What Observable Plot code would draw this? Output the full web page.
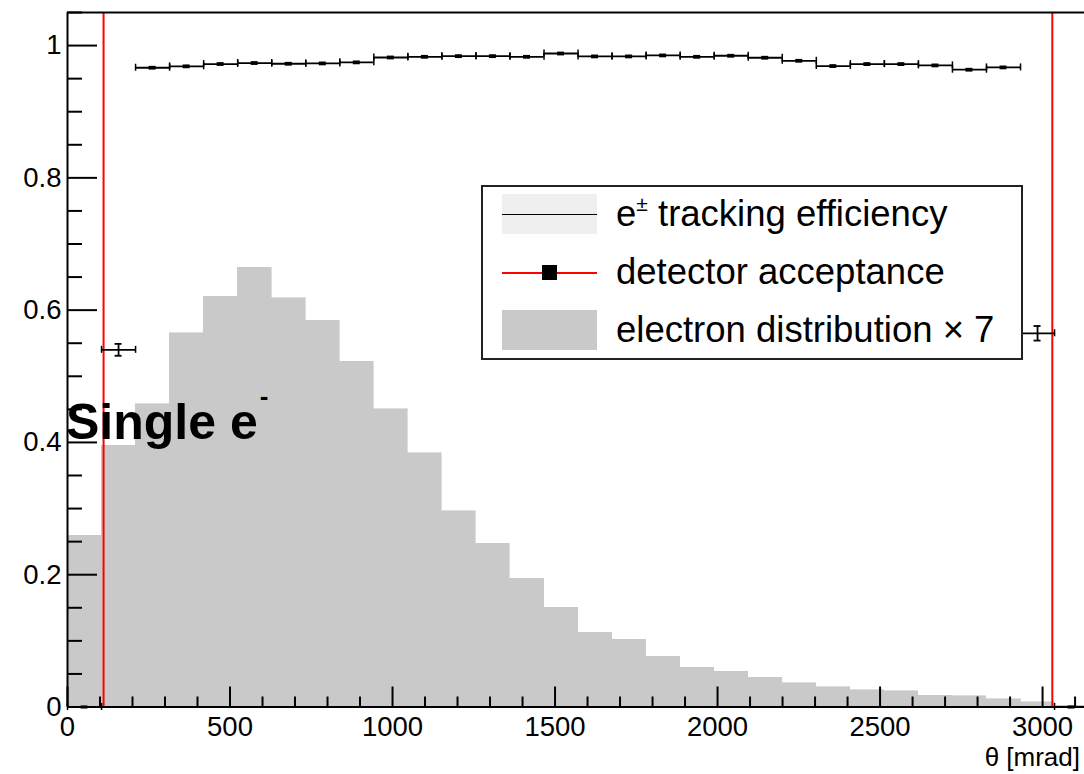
<!DOCTYPE html>
<html>
<head>
<meta charset="utf-8">
<script src="https://cdn.jsdelivr.net/npm/d3@7"></script>
<script src="https://cdn.jsdelivr.net/npm/@observablehq/plot@0.6"></script>
<style>
  body { margin: 0; background: #fff; }
  #wrap { position: relative; width: 1084px; height: 774px; overflow: hidden; background: #fff;
          font-family: "Liberation Sans", Arial, Helvetica, sans-serif; color: #000; }
  #wrap svg { position: absolute; left: 0; top: 0; }
  .abs { position: absolute; white-space: nowrap; }
  .legtext { position: absolute; left: 616px; height: 50px; line-height: 50px; font-size: 36.5px; white-space: nowrap; }
</style>
</head>
<body>
<div id="wrap"></div>
<script>
// ---- data ----
const binCount = 30;            // theta bins
const thetaMax = 3141.6;        // mrad (pi rad)
const xDomainMax = 3129;        // visible right end of the frame (mrad)
const yDomainMax = 1.05;

// electron distribution x 7 (grey histogram), one value per bin
const electronDist = [0.259, 0.395, 0.458, 0.565, 0.620, 0.664, 0.618, 0.584, 0.522, 0.450,
                      0.384, 0.296, 0.247, 0.194, 0.150, 0.112, 0.102, 0.076, 0.059, 0.053,
                      0.044, 0.036, 0.030, 0.025, 0.024, 0.017, 0.016, 0.012, 0.007, 0.002];

// e+- tracking efficiency, one value per bin
const efficiency = [0.000, 0.540, 0.9665, 0.9686, 0.9721, 0.9736, 0.9725, 0.9730, 0.9746, 0.9820,
                    0.9830, 0.9840, 0.9840, 0.9830, 0.9880, 0.9836, 0.9836, 0.9851, 0.9830, 0.9846,
                    0.9816, 0.9770, 0.9690, 0.9720, 0.9720, 0.9700, 0.9635, 0.9670, 0.565, 0.000];
const efficiencyErr = [0.001, 0.009, 0.0015, 0.0015, 0.0015, 0.0015, 0.0015, 0.0015, 0.0015, 0.0015,
                       0.0015, 0.0015, 0.0015, 0.0015, 0.0015, 0.0015, 0.0015, 0.0015, 0.0015, 0.0015,
                       0.0015, 0.0015, 0.0015, 0.0015, 0.0015, 0.0015, 0.0015, 0.0015, 0.011, 0.001];

// detector acceptance limits (mrad)
const acceptance = [111, 3030];

// axis ticks
const xMajorTicks = [0, 500, 1000, 1500, 2000, 2500, 3000];
const yMajorTicks = [0, 0.2, 0.4, 0.6, 0.8, 1];
const xMinorTicks = d3.range(0, 3200, 100).filter(v => v % 500 !== 0);
const yMinorTicks = d3.range(1, 22).map(i => i * 0.05).filter((v, i) => (i + 1) % 4 !== 0);

// ---- layout ----
const W = 1084, H = 774;
const mL = 67, mT = 12, mB = 67.5, mR = 0;
const frameW = W - mL - mR, frameH = H - mT - mB;
const xPx = p => p * xDomainMax / frameW;   // pixel length -> x units
const yPx = p => p * yDomainMax / frameH;   // pixel length -> y units

const bw = thetaMax / binCount;
const hist = electronDist.map((v, i) => ({x1: i * bw, x2: (i + 1) * bw, v}));
const eff = efficiency.map((v, i) => ({lo: i * bw, hi: (i + 1) * bw, c: (i + 0.5) * bw, v, e: efficiencyErr[i]}));

const font = '"Liberation Sans", Arial, Helvetica, sans-serif';

const chart = Plot.plot({
  width: W, height: H,
  marginLeft: mL, marginTop: mT, marginBottom: mB, marginRight: mR,
  x: {domain: [0, xDomainMax]},
  y: {domain: [0, yDomainMax]},
  style: {fontFamily: font, background: "transparent", color: "black"},
  marks: [
    // histogram
    Plot.rectY(hist, {x1: "x1", x2: "x2", y: "v", fill: "#c9c9c9", stroke: "#c9c9c9", strokeWidth: 0.6, shapeRendering: "crispEdges"}),
    // acceptance lines
    Plot.ruleX(acceptance, {x: d => d, y1: 0, y2: yDomainMax, stroke: "#ff0000", strokeWidth: 2}),
    // efficiency: horizontal bars
    Plot.ruleY(eff, {y: "v", x1: "lo", x2: "hi", stroke: "black", strokeWidth: 1.8}),
    // end ticks at bin edges
    Plot.ruleX(eff, {x: "lo", y1: d => d.v - yPx(3.5), y2: d => d.v + yPx(3.5), stroke: "black", strokeWidth: 1.5}),
    Plot.ruleX(eff, {x: "hi", y1: d => d.v - yPx(3.5), y2: d => d.v + yPx(3.5), stroke: "black", strokeWidth: 1.5}),
    // vertical errors + caps
    Plot.ruleX(eff, {x: "c", y1: d => d.v - d.e, y2: d => d.v + d.e, stroke: "black", strokeWidth: 1.8}),
    Plot.ruleY(eff, {y: d => d.v - d.e, x1: d => d.c - xPx(3.5), x2: d => d.c + xPx(3.5), stroke: "black", strokeWidth: 1.8}),
    Plot.ruleY(eff, {y: d => d.v + d.e, x1: d => d.c - xPx(3.5), x2: d => d.c + xPx(3.5), stroke: "black", strokeWidth: 1.8}),
    // frame
    Plot.ruleX([0], {x: d => d, y1: 0, y2: yDomainMax, stroke: "black", strokeWidth: 2}),
    Plot.ruleY([0, yDomainMax], {y: d => d, x1: 0, x2: xDomainMax + xPx(10), stroke: "black", strokeWidth: 2}),
    // ticks (pointing inward)
    Plot.ruleX(xMajorTicks, {x: d => d, y1: 0, y2: yPx(20), stroke: "black", strokeWidth: 2}),
    Plot.ruleX(xMinorTicks, {x: d => d, y1: 0, y2: yPx(10), stroke: "black", strokeWidth: 2}),
    Plot.ruleY(yMajorTicks, {y: d => d, x1: 0, x2: xPx(30), stroke: "black", strokeWidth: 2}),
    Plot.ruleY(yMinorTicks, {y: d => d, x1: 0, x2: xPx(15), stroke: "black", strokeWidth: 2}),
    // tick labels
    Plot.axisX({ticks: xMajorTicks, tickSize: 0, tickPadding: 9, fontSize: 27.5, label: null, tickFormat: d => String(d)}),
    Plot.axisY({ticks: yMajorTicks, tickSize: 0, tickPadding: 6, fontSize: 27.5, label: null, tickFormat: d => String(d)})
  ]
});

const wrap = document.getElementById("wrap");
wrap.appendChild(chart);

// ---- overlays: legend, annotation, axis title ----
function add(html) { wrap.insertAdjacentHTML("beforeend", html); }

// legend box
add(`<div class="abs" style="left:481px;top:185px;width:542px;height:175px;box-sizing:border-box;border:2px solid #222;background:#fff"></div>`);
// entry 1: tracking efficiency (light band + black line)
add(`<div class="abs" style="left:502px;top:194px;width:95px;height:40px;background:#efefef"></div>`);
add(`<div class="abs" style="left:502px;top:213.5px;width:95px;height:1.5px;background:#000"></div>`);
add(`<div class="legtext" style="top:189px">e<span style="font-size:21px;position:relative;top:-15px">±</span> tracking efficiency</div>`);
// entry 2: detector acceptance (red line + black square)
add(`<div class="abs" style="left:502px;top:271.5px;width:95px;height:2px;background:#ff0000"></div>`);
add(`<div class="abs" style="left:542px;top:265px;width:15px;height:15px;background:#000"></div>`);
add(`<div class="legtext" style="top:247px">detector acceptance</div>`);
// entry 3: electron distribution (grey box)
add(`<div class="abs" style="left:502px;top:310px;width:95px;height:40px;background:#c9c9c9"></div>`);
add(`<div class="legtext" style="top:305px">electron distribution × 7</div>`);

// annotation
add(`<div class="abs" style="left:66px;top:397px;font-size:50px;line-height:50px;font-weight:bold">Single e<span style="font-size:26px;position:relative;top:-34px;left:2px">-</span></div>`);

// x axis title
add(`<div class="abs" style="right:4px;top:742px;font-size:26px;line-height:30px">θ [mrad]</div>`);
</script>
</body>
</html>
